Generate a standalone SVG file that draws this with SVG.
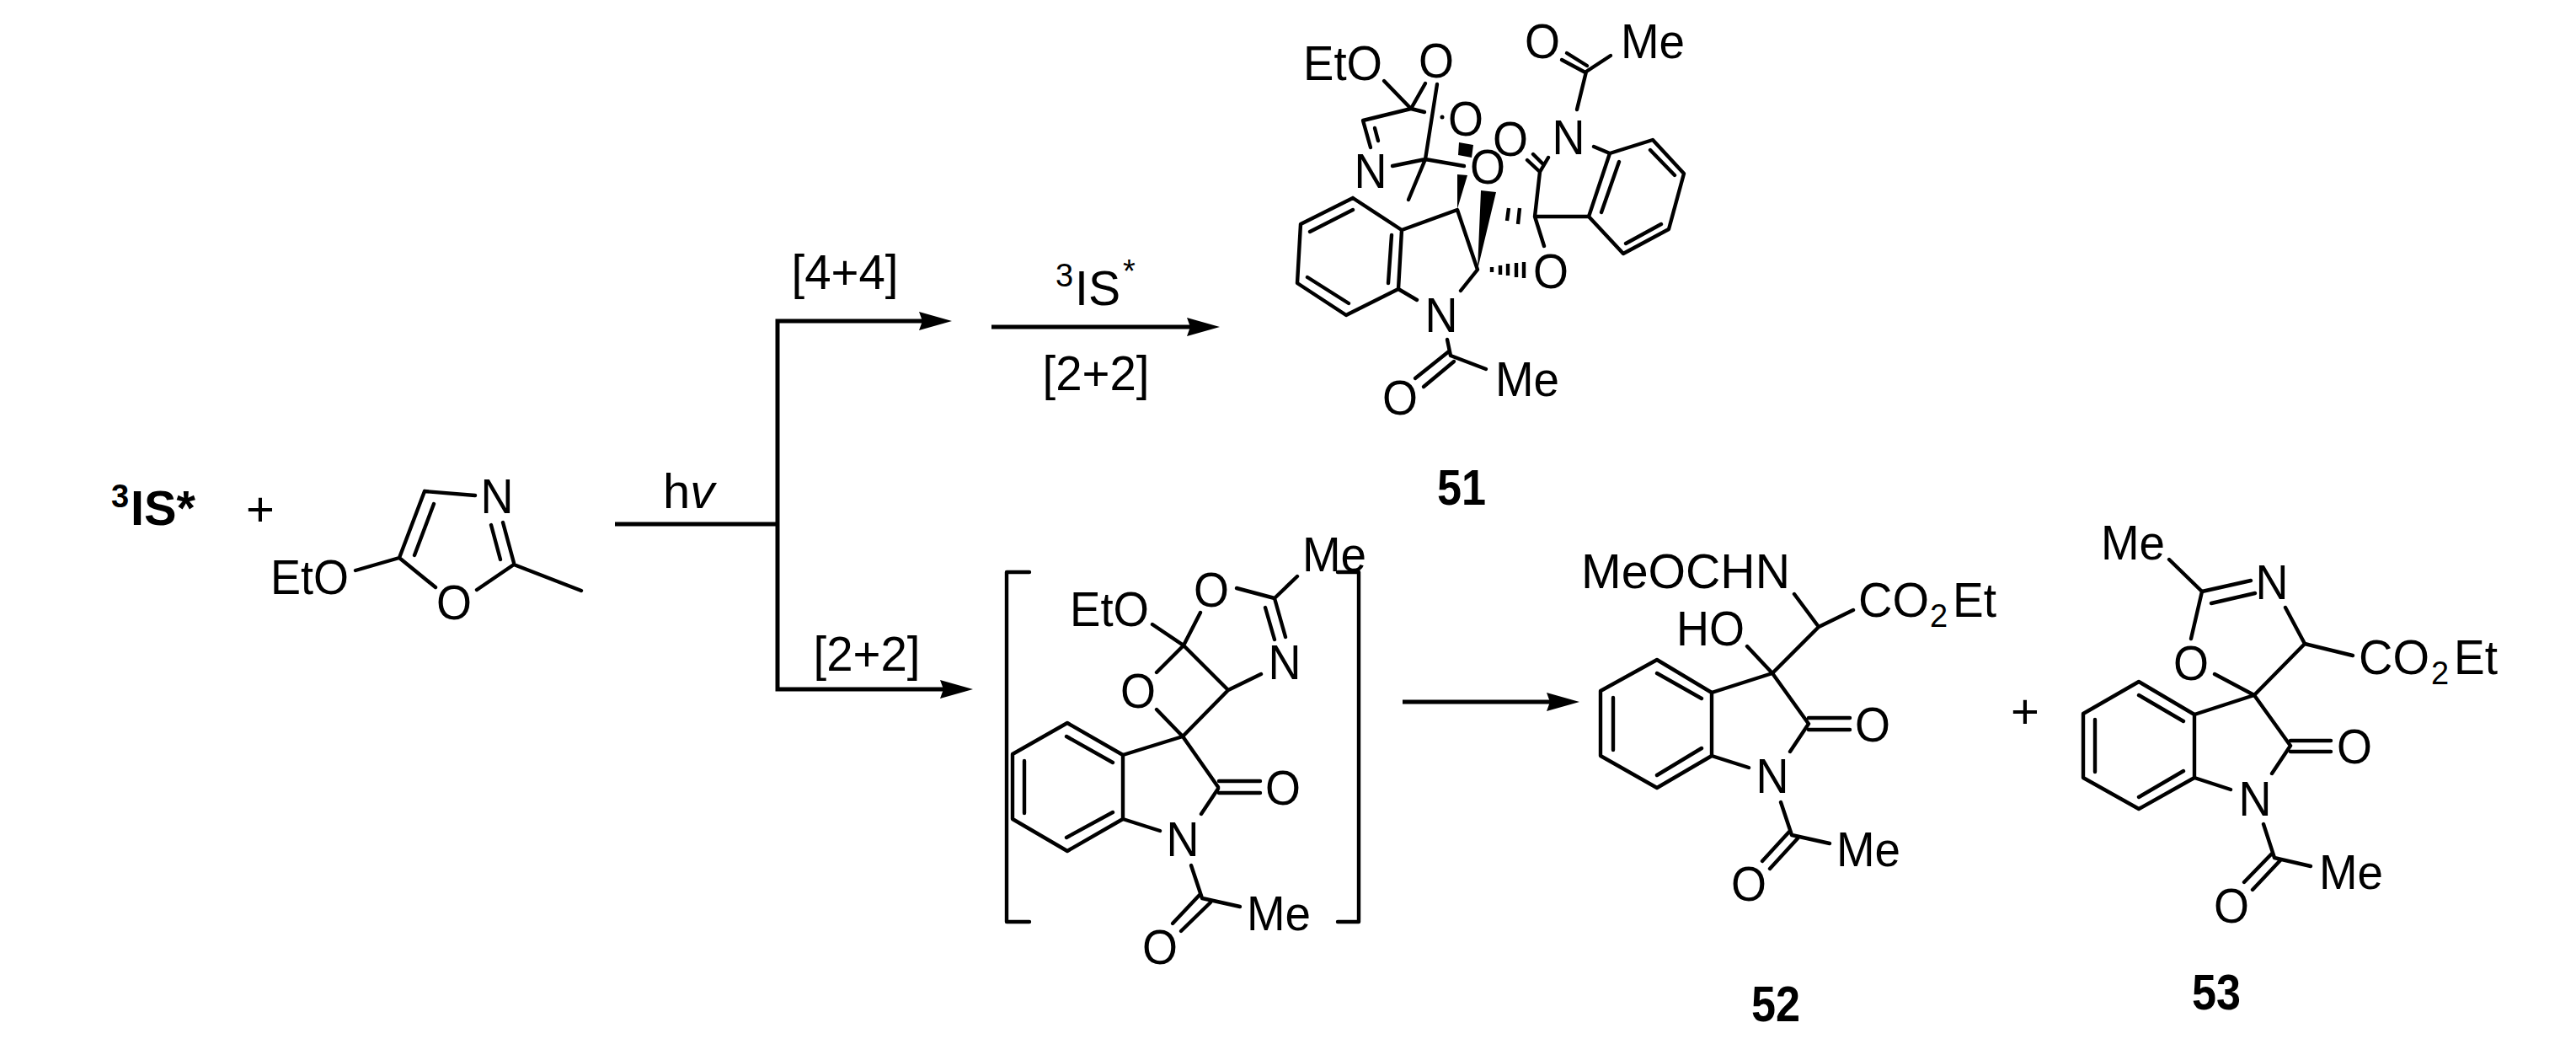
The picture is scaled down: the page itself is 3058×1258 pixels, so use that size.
<svg xmlns="http://www.w3.org/2000/svg" width="3058" height="1258" viewBox="0 0 3058 1258">
<style>
text{font-family:"Liberation Sans",Arial,sans-serif;font-size:58px;fill:#000}
.m{text-anchor:middle}
.s{font-size:38px}
.B{font-weight:bold}
.l{font-weight:bold;font-size:60px;text-anchor:middle}
.b{fill:none;stroke:#000;stroke-width:4.4;stroke-linecap:round;stroke-linejoin:round}
.c{fill:none;stroke:#000;stroke-width:5;stroke-linejoin:miter}
.h{fill:none;stroke:#000;stroke-width:4.4}
</style>
<defs>
<marker id="ah" markerUnits="userSpaceOnUse" markerWidth="42" markerHeight="26" viewBox="0 -13 42 26" refX="29" refY="0" orient="auto">
<path d="M0 -11L39 0L0 11L4 0Z" fill="#000"/>
</marker>
</defs>
<rect width="3058" height="1258" fill="#fff"/>
<g id="connectors">
<path class="c" d="M730 622H923"/>
<path class="c" d="M923 622V381H1120" marker-end="url(#ah)"/>
<path class="c" d="M923 622V818H1145" marker-end="url(#ah)"/>
<path class="c" d="M1177 388H1438" marker-end="url(#ah)"/>
<path class="c" d="M1665 833H1865" marker-end="url(#ah)"/>
</g>
<g id="reactant-is"><text x="132" y="602" class="s B">3</text><text x="155" y="623" class="B" textLength="77" lengthAdjust="spacingAndGlyphs">IS*</text></g>
<g id="plus-1"><text x="309" y="624" class="m">+</text></g>
<g id="oxazole">
<path class="b" d="M504 583L564 588M504 583L474 662M515 598L492 659M474 662L517 697M474 662L422 677M610 670L566 700M610 670L690 701M597 620L610 668M583 623L594 664"/>
<text x="321" y="705" textLength="93" lengthAdjust="spacingAndGlyphs">EtO</text><text x="590" y="609" class="m" textLength="39" lengthAdjust="spacingAndGlyphs">N</text><text x="539" y="735" class="m" textLength="42" lengthAdjust="spacingAndGlyphs">O</text>
</g>
<g id="label-hv"><text x="787" y="603">h<tspan font-style="italic">v</tspan></text></g>
<g id="label-44"><text x="1003" y="343" class="m" textLength="127" lengthAdjust="spacingAndGlyphs">[4+4]</text></g>
<g id="label-22-lower"><text x="1029" y="796" class="m" textLength="127" lengthAdjust="spacingAndGlyphs">[2+2]</text></g>
<g id="label-is-upper"><text x="1253" y="340" class="s">3</text><text x="1276" y="362" textLength="54" lengthAdjust="spacingAndGlyphs">IS</text><text x="1333" y="335" class="s">*</text></g>
<g id="label-22-upper"><text x="1301" y="463" class="m" textLength="127" lengthAdjust="spacingAndGlyphs">[2+2]</text></g>
<g id="compound-51">
<path class="b" d="M1643 96L1675 129M1675 129L1692 99M1675 129L1691 133M1675 129L1618 143L1627 175M1632 152L1636 167M1706 100L1692 189M1692 189L1653 197M1692 189L1738 197M1692 189L1672 237"/>
<path class="b" d="M1606 235L1544 266L1540 336L1598 374L1660 343L1664 273L1606 235M1606 249L1555 275M1652 279L1648 336M1552 329L1601 360M1664 273L1730 249L1754 320L1734 345M1660 343L1682 356"/>
<path class="b" d="M1718 403L1722 422L1764 438M1720 417L1680 449M1726 429L1690 459"/>
<path class="b" d="M1828 204L1822 257L1833 292M1822 257L1886 257M1813 190L1828 204L1838 187M1820 183L1832 195"/>
<path class="b" d="M1892 174L1911 182L1962 166L1999 206L1981 272L1927 301L1886 257L1911 182M1922 192L1901 252M1959 178L1988 208M1972 266L1930 289"/>
<path class="b" d="M1872 130L1883 85L1912 66M1884 78L1860 63M1882 86L1854 71"/>
<path d="M1732 169L1749 172L1747 187L1731 184ZM1730 207L1742 208L1730 248ZM1758 226L1776 228L1754 320Z" fill="#000"/>
<path class="h" d="M1771 317V323M1781 315V326M1790 313V327M1800 312V329M1809 311V330M1791 247L1789 262M1804 247L1802 266"/>
<circle cx="1712" cy="139" r="2.5" fill="#000"/>
<text x="1547" y="95" textLength="94" lengthAdjust="spacingAndGlyphs">EtO</text><text x="1705" y="92" class="m" textLength="42" lengthAdjust="spacingAndGlyphs">O</text><text x="1740" y="161" class="m" textLength="42" lengthAdjust="spacingAndGlyphs">O</text><text x="1627" y="223" class="m" textLength="39" lengthAdjust="spacingAndGlyphs">N</text><text x="1766" y="218" class="m" textLength="42" lengthAdjust="spacingAndGlyphs">O</text><text x="1793" y="185" class="m" textLength="42" lengthAdjust="spacingAndGlyphs">O</text><text x="1862" y="183" class="m" textLength="39" lengthAdjust="spacingAndGlyphs">N</text><text x="1831" y="69" class="m" textLength="42" lengthAdjust="spacingAndGlyphs">O</text><text x="1924" y="69" textLength="76" lengthAdjust="spacingAndGlyphs">Me</text><text x="1841" y="342" class="m" textLength="42" lengthAdjust="spacingAndGlyphs">O</text><text x="1711" y="394" class="m" textLength="39" lengthAdjust="spacingAndGlyphs">N</text><text x="1775" y="470" textLength="76" lengthAdjust="spacingAndGlyphs">Me</text><text x="1662" y="492" class="m" textLength="42" lengthAdjust="spacingAndGlyphs">O</text>
<text x="1735" y="599" class="l" textLength="58" lengthAdjust="spacingAndGlyphs">51</text>
</g>
<g id="intermediate">
<path class="b" d="M1222 679H1195V1094H1222M1588 679H1613V1094H1588"/>
<path class="b" d="M1368 741L1405 766M1425 727L1405 766M1405 766L1373 798M1405 766L1458 819L1497 800M1458 819L1404 874M1373 842L1404 874M1404 874L1333 896M1404 874L1446 934M1468 698L1513 710L1540 684M1513 710L1526 756M1502 721L1513 759M1447 927H1496M1447 941H1496M1446 936L1426 966"/>
<path class="b" d="M1333 896L1267 858L1202 895V972L1267 1010L1333 972V896M1266 874L1321 905M1216 903V965M1266 994L1321 964M1333 972L1377 986"/>
<path class="b" d="M1414 1027L1427 1066L1472 1076M1425 1061L1392 1096M1437 1071L1402 1105"/>
<text x="1546" y="678" textLength="76" lengthAdjust="spacingAndGlyphs">Me</text><text x="1438" y="720" class="m" textLength="42" lengthAdjust="spacingAndGlyphs">O</text><text x="1270" y="743" textLength="94" lengthAdjust="spacingAndGlyphs">EtO</text><text x="1525" y="806" class="m" textLength="39" lengthAdjust="spacingAndGlyphs">N</text><text x="1351" y="840" class="m" textLength="42" lengthAdjust="spacingAndGlyphs">O</text><text x="1523" y="955" class="m" textLength="42" lengthAdjust="spacingAndGlyphs">O</text><text x="1404" y="1016" class="m" textLength="39" lengthAdjust="spacingAndGlyphs">N</text><text x="1480" y="1104" textLength="76" lengthAdjust="spacingAndGlyphs">Me</text><text x="1377" y="1144" class="m" textLength="42" lengthAdjust="spacingAndGlyphs">O</text>
</g>
<g id="compound-52">
<path class="b" d="M2130 705L2159 744L2200 724M2159 744L2104 799M2074 767L2104 799L2032 822M2104 799L2147 859M2147 852H2196M2147 866H2196M2147 859L2125 892"/>
<path class="b" d="M2032 822L1967 783L1900 820V897L1967 935L2032 897V822M1967 799L2020 829M1915 828V890M1967 920L2020 888M2032 897L2076 911"/>
<path class="b" d="M2114 952L2127 991L2172 1001M2125 986L2092 1022M2134 995L2101 1031"/>
<text x="1877" y="698" textLength="248" lengthAdjust="spacingAndGlyphs">MeOCHN</text><text x="2206" y="732" textLength="84" lengthAdjust="spacingAndGlyphs">CO</text><text x="2291" y="744" class="s">2</text><text x="2318" y="732" textLength="52" lengthAdjust="spacingAndGlyphs">Et</text><text x="1990" y="766" textLength="81" lengthAdjust="spacingAndGlyphs">HO</text><text x="2223" y="880" class="m" textLength="42" lengthAdjust="spacingAndGlyphs">O</text><text x="2104" y="941" class="m" textLength="39" lengthAdjust="spacingAndGlyphs">N</text><text x="2180" y="1028" textLength="76" lengthAdjust="spacingAndGlyphs">Me</text><text x="2076" y="1069" class="m" textLength="42" lengthAdjust="spacingAndGlyphs">O</text>
<text x="2108" y="1212" class="l" textLength="58" lengthAdjust="spacingAndGlyphs">52</text>
</g>
<g id="plus-2"><text x="2404" y="864" class="m">+</text></g>
<g id="compound-53">
<path class="b" d="M2575 664L2614 702L2672 689M2625 716L2677 704M2614 702L2601 758M2713 721L2736 764L2793 778M2736 764L2676 825M2629 800L2676 825L2605 848M2676 825L2719 885M2719 879H2767M2719 892H2767M2719 885L2697 918"/>
<path class="b" d="M2605 848L2539 809L2473 847V923L2539 960L2605 923V848M2539 825L2592 856M2487 854V916M2539 946L2592 915M2605 923L2648 937"/>
<path class="b" d="M2687 978L2700 1018L2743 1028M2697 1013L2664 1047M2707 1021L2674 1056"/>
<text x="2494" y="664" textLength="76" lengthAdjust="spacingAndGlyphs">Me</text><text x="2697" y="711" class="m" textLength="39" lengthAdjust="spacingAndGlyphs">N</text><text x="2601" y="807" class="m" textLength="42" lengthAdjust="spacingAndGlyphs">O</text><text x="2800" y="800" textLength="84" lengthAdjust="spacingAndGlyphs">CO</text><text x="2886" y="812" class="s">2</text><text x="2913" y="800" textLength="52" lengthAdjust="spacingAndGlyphs">Et</text><text x="2795" y="906" class="m" textLength="42" lengthAdjust="spacingAndGlyphs">O</text><text x="2677" y="968" class="m" textLength="39" lengthAdjust="spacingAndGlyphs">N</text><text x="2753" y="1055" textLength="76" lengthAdjust="spacingAndGlyphs">Me</text><text x="2649" y="1095" class="m" textLength="42" lengthAdjust="spacingAndGlyphs">O</text>
<text x="2631" y="1198" class="l" textLength="58" lengthAdjust="spacingAndGlyphs">53</text>
</g>
</svg>
